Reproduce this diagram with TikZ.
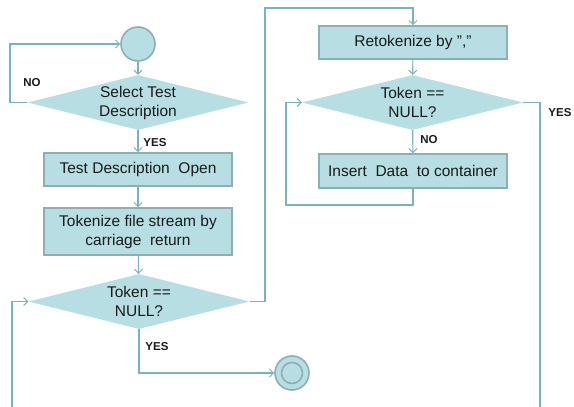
\documentclass[tikz,border=0pt]{standalone}
\usepackage{fontspec}
\setmainfont{Liberation Sans}
\usetikzlibrary{shapes.geometric,arrows.meta}
\definecolor{fillc}{HTML}{B7DFE3}
\definecolor{bordc}{HTML}{8FAEB0}
\definecolor{linec}{HTML}{78B4BE}
\definecolor{txtc}{HTML}{1A1A1A}
\tikzset{
  boxn/.style={draw=bordc, line width=1.6pt, fill=fillc, rectangle, minimum width=188pt, inner sep=0pt, align=center, text=txtc, font=\fontsize{15.5}{19}\selectfont},
  decn/.style={draw=none, fill=fillc, diamond, shape aspect=4, inner sep=0pt, minimum width=221pt, minimum height=55pt, align=center, text=txtc, font=\fontsize{15.5}{19}\selectfont},
  circn/.style={draw=bordc, line width=1.6pt, fill=fillc, circle, minimum size=34pt, inner sep=0pt},
  conn/.style={draw=linec, line width=1.1pt},
  arr/.style={conn, -{Straight Barb[length=4pt,width=8pt,line width=1pt]}},
  lbl/.style={font=\bfseries\fontsize{11.5}{13}\selectfont, text=txtc}
}
\begin{document}
\begin{tikzpicture}[x=1pt,y=-1pt]
\useasboundingbox (0,0) rectangle (574,407);
% nodes
\node[circn] (start) at (138,44) {};
\node[decn] (d1) at (138,102.5) {Select Test\\Description};
\node[boxn, minimum height=33pt] (b1) at (138,169.5) {Test Description\ \ Open};
\node[boxn, minimum height=47pt] (b2) at (138,231.5) {Tokenize file stream\ by\\carriage\ \ return};
\node[decn] (d2) at (139,301.5) {Token ==\\NULL?};
\node[circn] (end) at (292,373) {};
\draw[bordc, line width=1.6pt] (end.center) circle[radius=10.5pt];
\node[boxn, minimum height=33pt] (re) at (413,42.5) {Retokenize by ”,”};
\node[decn] (d3) at (412.5,102.5) {Token ==\\NULL?};
\node[boxn, minimum height=34pt] (ins) at (413,171) {Insert\ \ Data\ \ to container};
% helper coordinates
\coordinate (t1) at (265,8);
\coordinate (lp) at (286,205);
\coordinate (e3) at (540,407);
\coordinate (e2) at (12,407);
\coordinate (nl) at (10,102.5);
% connectors
\draw[arr] (start) -- (d1);
\draw[arr] (d1.west) -- (nl) |- (start.west);
\draw[arr] (d1) -- (b1);
\draw[arr] (b1) -- (b2);
\draw[arr] (b2) -- (d2);
\draw[arr] (d2.east) -| (t1) -| (re.north);
\draw[arr] (re) -- (d3);
\draw[arr] (d3) -- (ins);
\draw[arr] (ins.south) |- (lp) |- (d3.west);
\draw[conn] (d3.east) -| (e3);
\draw[arr] (e2) |- (d2.west);
\draw[arr] (d2.south) |- (end.west);
% labels
\node[lbl] at (32,83) {NO};
\node[lbl] at (155,143) {YES};
\node[lbl] at (157,347) {YES};
\node[lbl] at (429,140) {NO};
\node[lbl] at (560,113) {YES};
\end{tikzpicture}
\end{document}
